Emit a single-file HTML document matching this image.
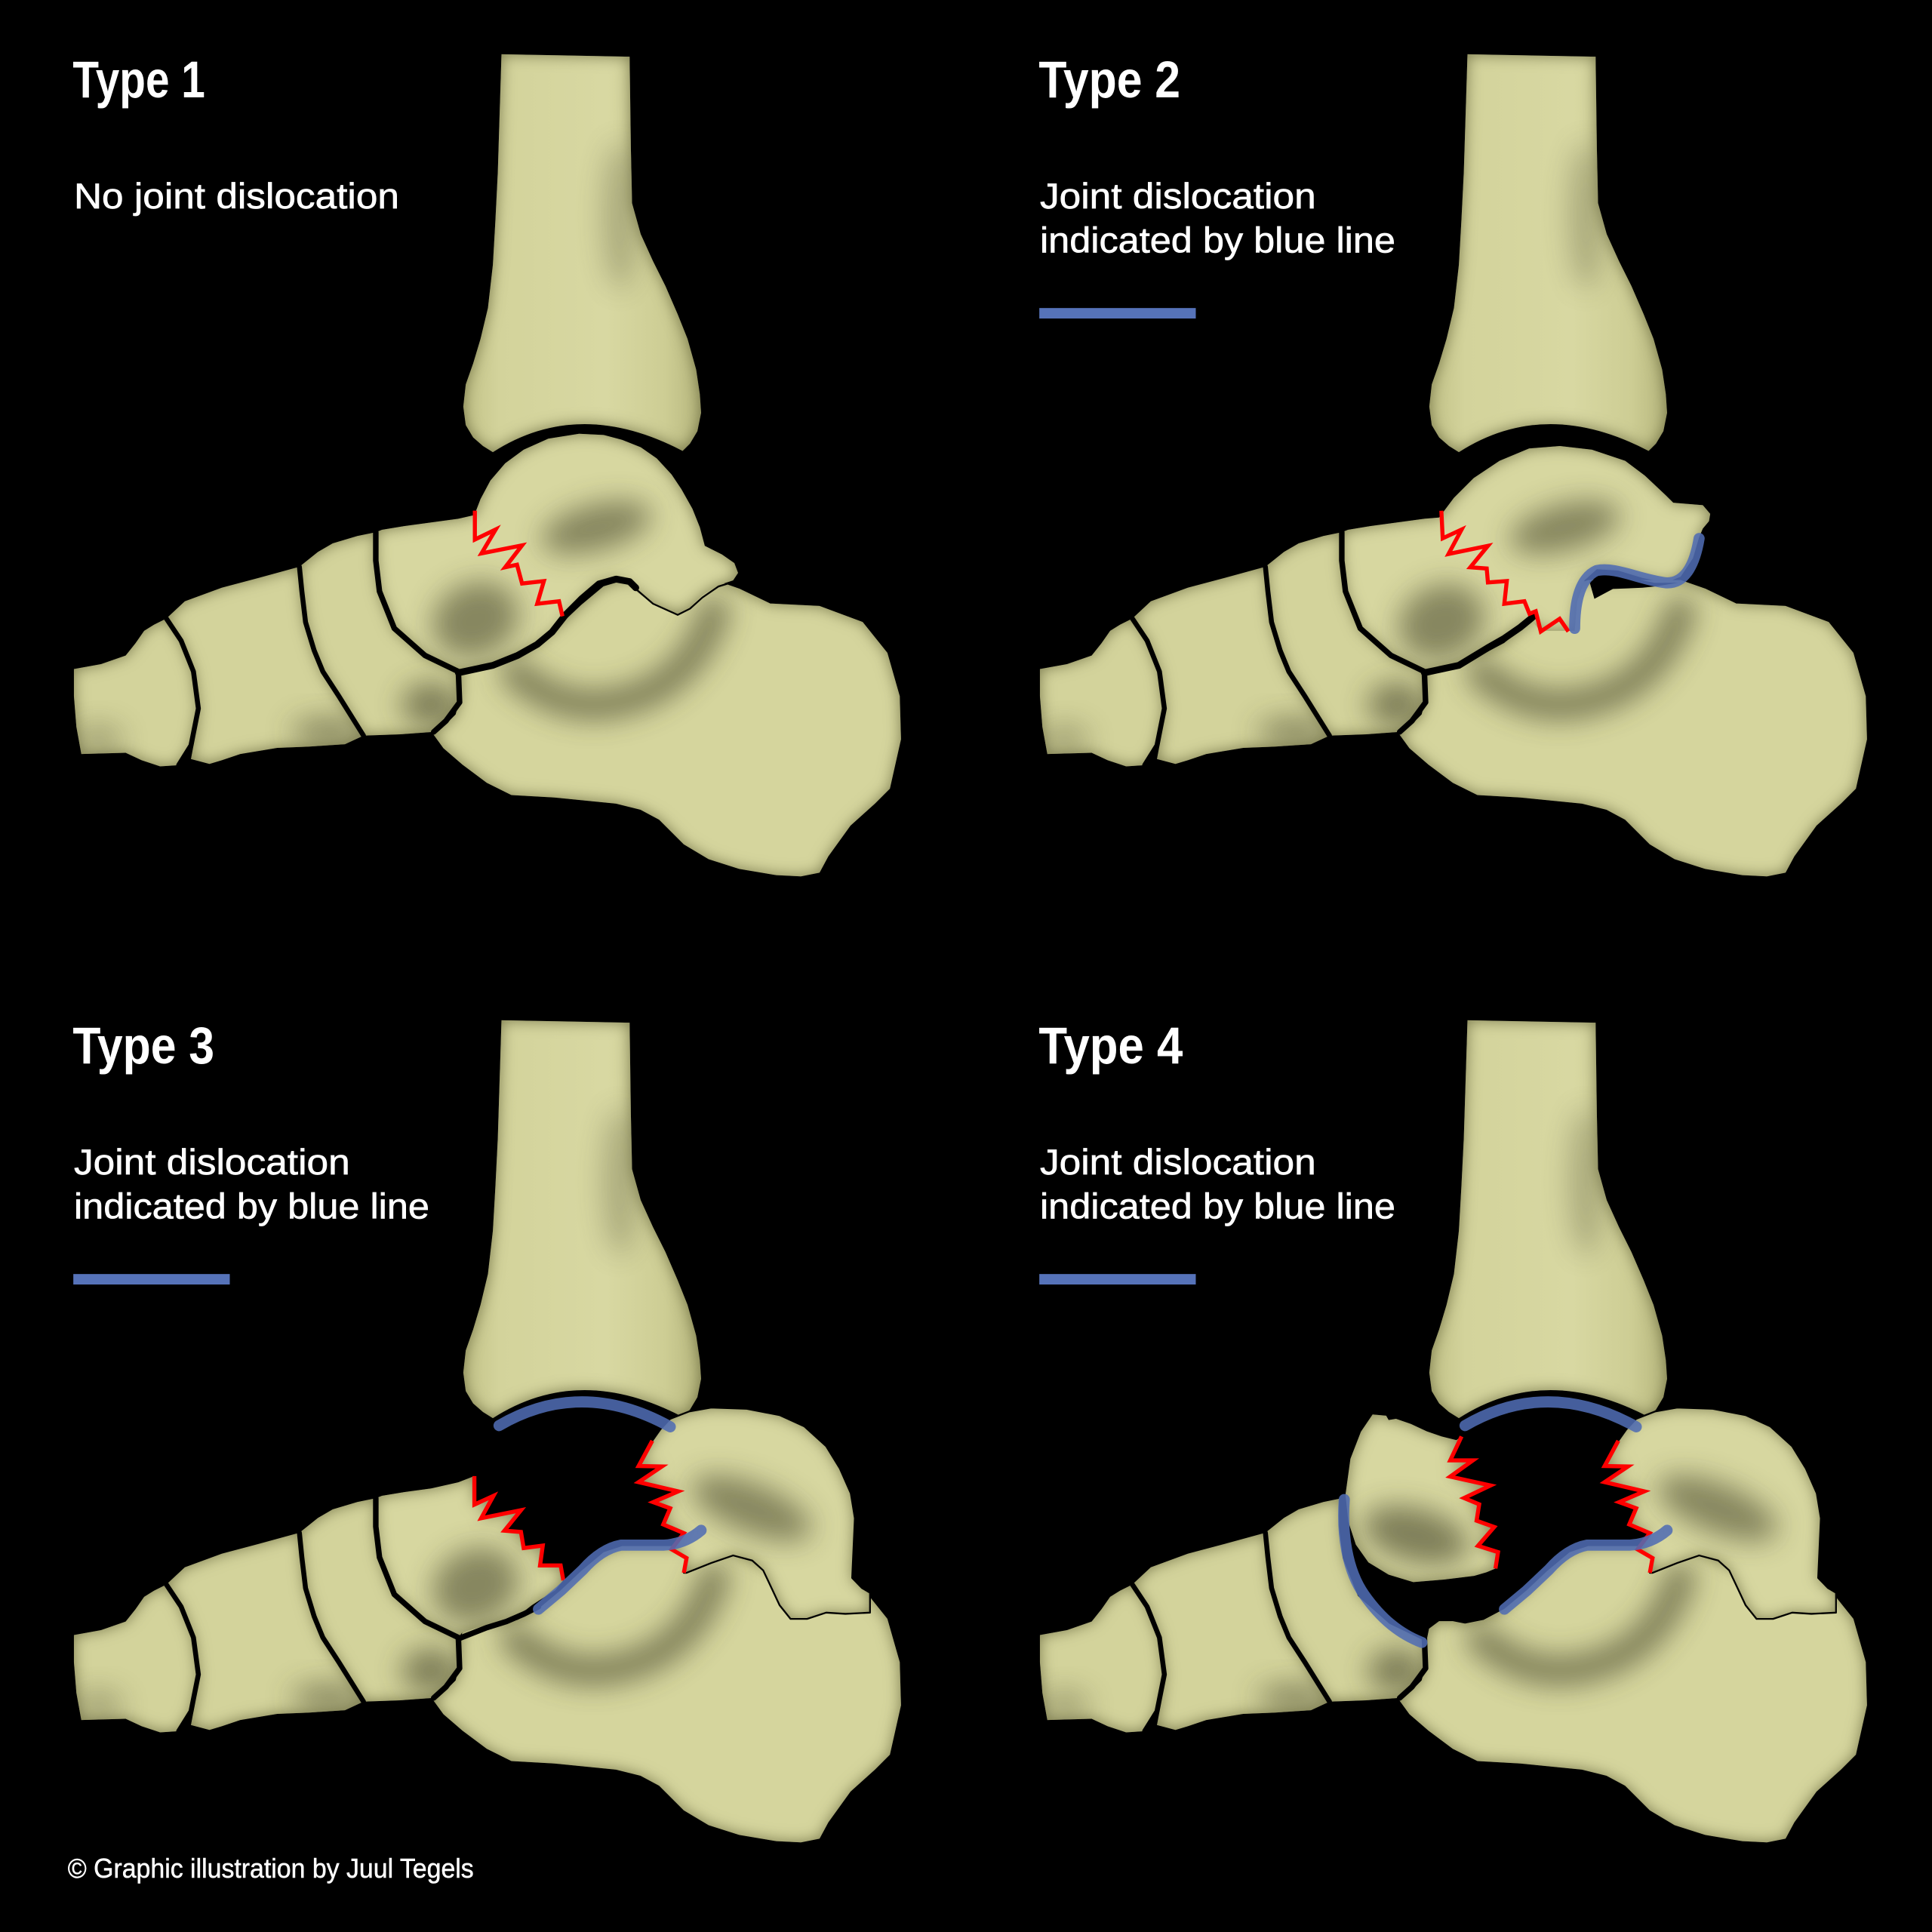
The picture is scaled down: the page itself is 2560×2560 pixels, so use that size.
<!DOCTYPE html>
<html>
<head>
<meta charset="utf-8">
<style>
  html,body{margin:0;padding:0;background:#000;}
  svg{display:block;}
  .t{font-family:"Liberation Sans",Arial,sans-serif;fill:#fff;}
</style>
</head>
<body>
<svg width="2560" height="2560" viewBox="0 0 1568 1568" xmlns="http://www.w3.org/2000/svg" xmlns:xlink="http://www.w3.org/1999/xlink">
<defs>
  <linearGradient id="tg" x1="0" y1="0" x2="1" y2="0">
    <stop offset="0" stop-color="#c2c288"/>
    <stop offset="0.15" stop-color="#d3d39b"/>
    <stop offset="0.6" stop-color="#d8d8a2"/>
    <stop offset="0.85" stop-color="#cdcd94"/>
    <stop offset="1" stop-color="#b6b67d"/>
  </linearGradient>
  <filter id="edge" x="-10%" y="-10%" width="120%" height="120%" color-interpolation-filters="sRGB">
    <feGaussianBlur in="SourceAlpha" stdDeviation="6" result="b"/>
    <feComposite in="SourceAlpha" in2="b" operator="out" result="e"/>
    <feFlood flood-color="#55552d" flood-opacity="0.7"/>
    <feComposite in2="e" operator="in" result="s"/>
    <feMerge><feMergeNode in="SourceGraphic"/><feMergeNode in="s"/></feMerge>
  </filter>
  <filter id="bl" x="-80%" y="-80%" width="260%" height="260%">
    <feGaussianBlur stdDeviation="11"/>
  </filter>

  <path id="tibia" d="M407,44 L511,46 L512,120 L513,165 L520,190 L530,212 L540,232 L550,255 L558,275 L565,300 L568,320 L569,335 L566,350 L560,360 L554,366 Q470,322 400,367 L392,362 L384,355 L378,345 L376,330 L378,312 L384,295 L390,275 L396,250 L400,215 L402,180 L404,140 Z"/>
  <path id="metat" d="M60,543 L82,539 L102,532 L110,522 L117,512 L125,507 L135,502 L147,520 L157,545 L161,575 L155,605 L145,621 L130,622 L115,617 L102,611 L66,612 L62,590 L60,565 Z"/>
  <path id="cune" d="M135,502 L150,488 L180,477 L210,469 L243,460 L245,480 L248,505 L255,528 L262,545 L275,565 L295,597 L280,604 L250,606 L225,607 L195,612 L180,617 L170,620 L155,616 L158,600 L161,575 L157,545 L147,520 Z"/>
  <path id="navic" d="M243,460 L258,448 L270,441 L290,435 L305,432 L305,455 L308,480 L320,510 L345,532 L372,545 L373,570 L362,585 L352,594 L325,596 L295,597 L275,565 L262,545 L255,528 L248,505 L245,480 Z"/>
  <path id="calc" d="M374,548 L376,538 L384,532 L395,532 L405,534 L420,531 L437,522 L455,507 L472,491 L490,476 L505,471 L539,471 L560,471 L580,471 L600,478 L625,490 L665,492 L700,505 L720,530 L730,565 L731,600 L722,640 L710,652 L690,670 L672,695 L665,708 L650,711 L630,710 L600,705 L575,697 L555,685 L535,665 L520,657 L500,652 L450,647 L415,645 L395,635 L375,620 L360,607 L352,596 L362,588 L370,580 L374,565 Z"/>
  <path id="talus1" d="M305,432 L310,430 L328,427 L350,424 L372,421 L385,418 L390,405 L398,390 L410,376 L425,365 L445,356 L470,352 L490,353 L505,357 L520,363 L533,372 L545,385 L553,397 L562,413 L568,428 L572,443 L586,450 L596,457 L599,465 L595,471 L583,475 L570,483 L560,493 L550,498 L530,490 L515,479 L505,472 L495,471 L484,475 L472,487 L462,499 L452,511 L440,521 L420,531 L400,539 L372,545 L345,532 L320,510 L308,480 L305,455 Z"/>
  <path id="talus2" d="M305,432 L310,430 L328,427 L350,424 L372,421 L384,420 L396,404 L412,388 L433,374 L457,364 L482,362 L508,365 L535,374 L551,386 L568,402 L574,408 L586,409 L598,410 L604,417 L603,423 L598,429 L595,436 L590,453 L580,468 L568,473 L549,469 L529,463 L512,462 L502,471 L496,488 L494,512 L466,512 L458,502 L450,508 L437,517 L423,525 L400,539 L372,545 L345,532 L320,510 L308,480 L305,455 Z"/>
  <path id="talus3h" d="M305,432 L310,430 L328,427 L350,424 L372,419 L385,414 L385,437.1 L400.5,430 L390.5,448.2 L422.8,441.7 L409.4,458.3 L422.8,459.3 L425,472.4 L440.5,470.4 L438.3,486.5 L455,486.5 L457.2,498.6 L450.5,506.7 L439.4,513.7 L431.6,518.8 L423.9,524.8 L410.5,530.9 L395,534.9 L375,541 L372,545 L345,532 L320,510 L308,480 L305,455 Z"/>
  <path id="talus3b" d="M529.4,385.3 L536,376 L543.9,367.5 L559.4,361.5 L577.2,358.4 L606.1,359.4 L632.7,364.5 L652.7,373.6 L670.5,389.7 L681.6,407.8 L690.5,428 L693.8,448.2 L692.7,472.4 L691.6,496.6 L699.4,504.7 L706.1,508.7 L706.1,524.8 L686.1,525.8 L670.5,524.8 L655,529.9 L641.6,529.9 L632.7,518.8 L626.1,504.7 L619.4,490.5 L610.5,482.5 L595,478.4 L577.2,484.5 L557.2,492.5 L555,492.5 L557.2,480.5 L545,473.4 L555,460.3 L538.3,453.2 L543.9,440.1 L530.1,435.1 L550.5,426.4 L518.3,418.9 L537.2,406.2 L518.3,405.8 Z"/>
  <path id="talus4h" d="M308,429 L312,400 L320.5,378 L330,364 L341,365 L343,368.5 L349,367.5 L361,371.6 L374,377.7 L386,381.8 L398,384.8 L402.2,381.8 L393,401.2 L411.4,401.2 L393,414.4 L425.7,421.6 L404.2,431.8 L416.5,436.9 L414.4,450.2 L428.7,455.3 L415.5,470.6 L431.8,475.7 L429.7,489 L422.6,492 L412.4,495 L388,498 L363,500 L343,494 L326.6,484 L316.4,469.6 L310.3,451 Z"/>

  <clipPath id="cTib"><use xlink:href="#tibia"/></clipPath>
  <clipPath id="cCalc"><use xlink:href="#calc"/></clipPath>
  <clipPath id="cNav"><use xlink:href="#navic"/></clipPath>
  <clipPath id="cCun"><use xlink:href="#cune"/></clipPath>
  <clipPath id="cMet"><use xlink:href="#metat"/></clipPath>
  <clipPath id="cT1"><use xlink:href="#talus1"/></clipPath>
  <clipPath id="cT2"><use xlink:href="#talus2"/></clipPath>
  <clipPath id="cT3h"><use xlink:href="#talus3h"/></clipPath>
  <clipPath id="cT3b"><use xlink:href="#talus3b"/></clipPath>
  <clipPath id="cT4h"><use xlink:href="#talus4h"/></clipPath>

  <g id="base">
    <use xlink:href="#calc" fill="#d5d59d" filter="url(#edge)" stroke="#d5d59d" stroke-width="0.5" stroke-linejoin="round"/>
    <g clip-path="url(#cCalc)">
      <g filter="url(#bl)" opacity="0.6">
        <path d="M418,546 Q468,590 530,560 Q566,540 580,496" fill="none" stroke="#45452a" stroke-width="24" stroke-linecap="round"/>
      </g>
    </g>
    <use xlink:href="#metat" fill="#d3d39b" filter="url(#edge)"/>
    <g clip-path="url(#cMet)"><g filter="url(#bl)" opacity="0.35"><ellipse cx="80" cy="600" rx="20" ry="12" fill="#45452a"/></g></g>
    <use xlink:href="#cune" fill="#d3d39b" filter="url(#edge)"/>
    <g clip-path="url(#cCun)"><g filter="url(#bl)" opacity="0.5"><ellipse cx="268" cy="594" rx="32" ry="12" fill="#45452a"/></g></g>
    <use xlink:href="#navic" fill="#d3d39b" filter="url(#edge)"/>
    <g clip-path="url(#cNav)"><g filter="url(#bl)" opacity="0.6"><ellipse cx="350" cy="572" rx="24" ry="18" fill="#45452a"/></g></g>
    <use xlink:href="#tibia" fill="url(#tg)" filter="url(#edge)"/>
    <g clip-path="url(#cTib)"><g filter="url(#bl)" opacity="0.3"><ellipse cx="503" cy="175" rx="14" ry="60" fill="#45452a"/></g></g>
    <path d="M243,460 L245,480 L248,505 L255,528 L262,545 L275,565 L295,597" fill="none" stroke="#000" stroke-width="4" stroke-linecap="round" stroke-linejoin="round"/>
    <path d="M135,502 L147,520 L157,545 L161,575 L155,605 L145,621" fill="none" stroke="#000" stroke-width="4" stroke-linecap="round" stroke-linejoin="round"/>
  </g>
  <path id="navEdge" d="M305,432 L305,455 L308,480 L320,510 L345,532 L372,545 L373,570 L362,585 L352,594" fill="none" stroke="#000" stroke-width="4.5" stroke-linecap="round" stroke-linejoin="round"/>

  <g id="legend">
    <text class="t" x="60" y="169" font-size="29" textLength="224" lengthAdjust="spacingAndGlyphs" stroke="#fff" stroke-width="0.4">Joint dislocation</text>
    <text class="t" x="60" y="205" font-size="29" textLength="288.5" lengthAdjust="spacingAndGlyphs" stroke="#fff" stroke-width="0.4">indicated by blue line</text>
    <rect x="59.5" y="250" width="127" height="8.5" fill="#5673b9"/>
  </g>
</defs>

<rect width="1568" height="1568" fill="#000"/>

<!-- ===== TYPE 1 ===== -->
<g>
  <use xlink:href="#base"/>
  <use xlink:href="#talus1" fill="#d7d7a0" filter="url(#edge)"/>
  <g clip-path="url(#cT1)">
    <g filter="url(#bl)" opacity="0.55">
      <ellipse cx="484" cy="428" rx="46" ry="19" transform="rotate(-15 484 428)" fill="#45452a"/>
      <ellipse cx="386" cy="503" rx="36" ry="30" transform="rotate(-25 386 503)" fill="#45452a"/>
    </g>
  </g>
  <path d="M372,546 L400,540 L420,532 L436,523 L448,513 L459,499 L472,486 L486,474 L500,470 L511,472 L516,477" fill="none" stroke="#000" stroke-width="5.5" stroke-linecap="round" stroke-linejoin="round"/>
  <path d="M516,478 L530,490 L550,499 L560,494 L570,485 L583,476 L596,472" fill="none" stroke="#000" stroke-width="1.4" stroke-linejoin="round"/>
  <use xlink:href="#navEdge"/>
  <path d="M385.4,414.4 L385.4,437.9 L402.3,429.7 L390.8,449.1 L423.7,442.6 L410,460.4 L419.6,458.3 L423.7,473.6 L441.4,471.6 L436,490 L453.7,488 L456.5,500.2" fill="none" stroke="#ff0000" stroke-width="3.3"/>
  <text class="t" x="59" y="79" font-size="42" font-weight="bold" textLength="107.5" lengthAdjust="spacingAndGlyphs">Type 1</text>
  <text class="t" x="60" y="169" font-size="29" textLength="264" lengthAdjust="spacingAndGlyphs" stroke="#fff" stroke-width="0.4">No joint dislocation</text>
</g>

<!-- ===== TYPE 2 ===== -->
<g transform="translate(784,0)">
  <use xlink:href="#base"/>
  <use xlink:href="#talus2" fill="#d7d7a0" filter="url(#edge)"/>
  <g clip-path="url(#cT2)">
    <g filter="url(#bl)" opacity="0.55">
      <ellipse cx="486" cy="428" rx="46" ry="19" transform="rotate(-15 486 428)" fill="#45452a"/>
      <ellipse cx="386" cy="505" rx="36" ry="30" transform="rotate(-25 386 505)" fill="#45452a"/>
    </g>
  </g>
  <path d="M506,472 L519,467 L539,469 L559,473 L578,473 L559,476 L549,477 L525,478 L510,486 Z" fill="#000"/>
  <path d="M372,546 L400,540 L423,526 L437,518 L450,509 L461,500" fill="none" stroke="#000" stroke-width="5.5" stroke-linecap="round" stroke-linejoin="round"/>
  <use xlink:href="#navEdge"/>
  <path d="M385.8,414.5 L386.9,436.9 L402.2,429.8 L391.6,449.6 L423.6,443 L409.3,460.4 L422.6,461.4 L423.6,472.7 L438.9,471.6 L436.9,490 L453.2,488 L457.3,498.1 L462.4,496.1 L466.5,512.5 L481.8,502.2 L488.9,512.5" fill="none" stroke="#ff0000" stroke-width="3.3"/>
  <path d="M494,510 C494,495 496,470 512,463 C528,460 545,470 568,473 C585,474 592,455 595,437" fill="none" stroke="#4f6cb3" stroke-opacity="0.87" stroke-width="9" stroke-linecap="round" stroke-linejoin="round"/>
  <text class="t" x="59" y="79" font-size="42" font-weight="bold" textLength="115" lengthAdjust="spacingAndGlyphs">Type 2</text>
  <use xlink:href="#legend"/>
</g>

<!-- ===== TYPE 3 ===== -->
<g transform="translate(0,784)">
  <use xlink:href="#base"/>
  <use xlink:href="#talus3h" fill="#d7d7a0" filter="url(#edge)"/>
  <g clip-path="url(#cT3h)">
    <g filter="url(#bl)" opacity="0.55">
      <ellipse cx="386" cy="503" rx="36" ry="30" transform="rotate(-25 386 503)" fill="#45452a"/>
    </g>
  </g>
  <use xlink:href="#talus3b" fill="#d7d7a0" filter="url(#edge)"/>
  <g clip-path="url(#cT3b)">
    <g filter="url(#bl)" opacity="0.55">
      <ellipse cx="610" cy="440" rx="52" ry="20" transform="rotate(22 610 440)" fill="#45452a"/>
    </g>
  </g>
  <use xlink:href="#talus3b" fill="none" stroke="#000" stroke-width="1.4" stroke-linejoin="round"/>
  <path d="M372,546 L395,537 L411,532 L425,526 L437,520" fill="none" stroke="#000" stroke-width="4.5" stroke-linecap="round"/>
  <use xlink:href="#navEdge"/>
  <path d="M385,414 L385,437.1 L400.5,430 L390.5,448.2 L422.8,441.7 L409.4,458.3 L422.8,459.3 L425,472.4 L440.5,470.4 L438.3,486.5 L455,486.5 L457.2,498.6" fill="none" stroke="#ff0000" stroke-width="3.3"/>
  <path d="M529.4,385.3 L518.3,405.8 L537.2,406.2 L518.3,418.9 L550.5,426.4 L530.1,435.1 L543.9,440.1 L538.3,453.2 L555,460.3 L545,473.4 L557.2,480.5 L555,492.5" fill="none" stroke="#ff0000" stroke-width="3.3"/>
  <path d="M405,373 Q472,334 544,374" fill="none" stroke="#4f6cb3" stroke-opacity="0.87" stroke-width="9" stroke-linecap="round"/>
  <path d="M437,522 L455,507 L473,490 Q488,473 504,470 L539,470 Q556,469 569,458" fill="none" stroke="#4f6cb3" stroke-opacity="0.87" stroke-width="9" stroke-linecap="round" stroke-linejoin="round"/>
  <text class="t" x="59" y="79" font-size="42" font-weight="bold" textLength="115" lengthAdjust="spacingAndGlyphs">Type 3</text>
  <use xlink:href="#legend"/>
</g>

<!-- ===== TYPE 4 ===== -->
<g transform="translate(784,784)">
  <use xlink:href="#base"/>
  <use xlink:href="#talus4h" fill="#d7d7a0" filter="url(#edge)"/>
  <g clip-path="url(#cT4h)">
    <g filter="url(#bl)" opacity="0.6">
      <ellipse cx="365" cy="462" rx="44" ry="22" transform="rotate(15 365 462)" fill="#45452a"/>
    </g>
  </g>
  <use xlink:href="#talus3b" fill="#d7d7a0" filter="url(#edge)"/>
  <g clip-path="url(#cT3b)">
    <g filter="url(#bl)" opacity="0.55">
      <ellipse cx="610" cy="440" rx="52" ry="20" transform="rotate(22 610 440)" fill="#45452a"/>
    </g>
  </g>
  <use xlink:href="#talus3b" fill="none" stroke="#000" stroke-width="1.4" stroke-linejoin="round"/>
  <use xlink:href="#navEdge"/>
  <path d="M402.2,381.8 L393,401.2 L411.4,401.2 L393,414.4 L425.7,421.6 L404.2,431.8 L416.5,436.9 L414.4,450.2 L428.7,455.3 L415.5,470.6 L431.8,475.7 L429.7,489" fill="none" stroke="#ff0000" stroke-width="3.3"/>
  <path d="M529.4,385.3 L518.3,405.8 L537.2,406.2 L518.3,418.9 L550.5,426.4 L530.1,435.1 L543.9,440.1 L538.3,453.2 L555,460.3 L545,473.4 L557.2,480.5 L555,492.5" fill="none" stroke="#ff0000" stroke-width="3.3"/>
  <path d="M405,373 Q472,334 544,374" fill="none" stroke="#4f6cb3" stroke-opacity="0.87" stroke-width="9" stroke-linecap="round"/>
  <path d="M437,522 L455,507 L473,490 Q488,473 504,470 L539,470 Q556,469 569,458" fill="none" stroke="#4f6cb3" stroke-opacity="0.87" stroke-width="9" stroke-linecap="round" stroke-linejoin="round"/>
  <path d="M307,433 C305,460 309,490 323,510 C337,530 352,542 370,549" fill="none" stroke="#4f6cb3" stroke-opacity="0.87" stroke-width="9" stroke-linecap="round"/>
  <text class="t" x="59" y="79" font-size="42" font-weight="bold" textLength="117" lengthAdjust="spacingAndGlyphs">Type 4</text>
  <use xlink:href="#legend"/>
</g>

<text class="t" x="55" y="1524" font-size="22" textLength="329.5" lengthAdjust="spacingAndGlyphs" stroke="#fff" stroke-width="0.3">© Graphic illustration by Juul Tegels</text>
</svg>
</body>
</html>
